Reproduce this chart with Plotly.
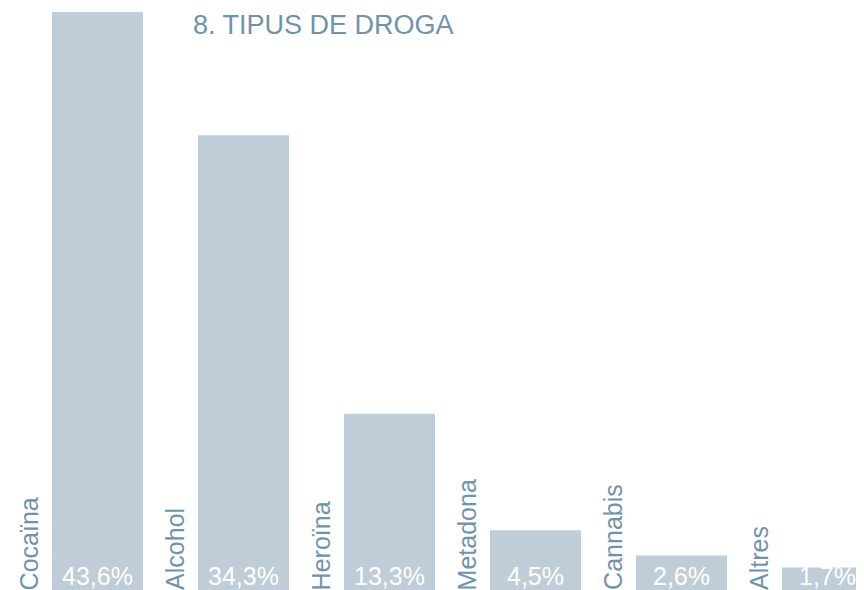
import plotly.graph_objects as go

categories = ["Cocaïna", "Alcohol", "Heroïna", "Metadona", "Cannabis", "Altres"]
values = [43.6, 34.3, 13.3, 4.5, 2.6, 1.7]
value_labels = ["43,6%", "34,3%", "13,3%", "4,5%", "2,6%", "1,7%"]
title_text = "8. TIPUS DE DROGA"

BAR = "#BFCDD8"
TXT = "#7093AB"
FONT = "Liberation Sans, Arial, Helvetica, sans-serif"

W, H = 856, 582  # page body has an 8px margin
xs = list(range(len(categories)))
fig = go.Figure(go.Bar(x=xs, y=values, width=0.623, marker=dict(color=BAR, line=dict(width=0)),
                       hoverinfo="skip"))

ann = []
for i, (c, v, lab) in enumerate(zip(categories, values, value_labels)):
    ann.append(dict(x=i - 0.47, y=0, xref="x", yref="y", text=c, textangle=-90, showarrow=False,
                    xanchor="center", yanchor="bottom", yshift=-2,
                    font=dict(family=FONT, size=25, color=TXT)))
    ann.append(dict(x=i, y=0, xref="x", yref="y", text=lab, showarrow=False,
                    xanchor="center", yanchor="bottom", yshift=-2,
                    font=dict(family=FONT, size=25, color="white")))
ann.append(dict(x=183 / W, y=1 - 17 / H, xref="paper", yref="paper", text=title_text, showarrow=False,
                xanchor="left", yanchor="middle", font=dict(family=FONT, size=27, color=TXT)))

fig.update_layout(
    width=W, height=H, margin=dict(l=0, r=0, t=0, b=0),
    paper_bgcolor="white", plot_bgcolor="white", showlegend=False,
    xaxis=dict(range=[-89.5 / 146, (W - 89.5) / 146], visible=False, fixedrange=True),
    yaxis=dict(range=[0, H / 13.257], visible=False, fixedrange=True),
    annotations=ann,
)
fig.write_html("out.html")
